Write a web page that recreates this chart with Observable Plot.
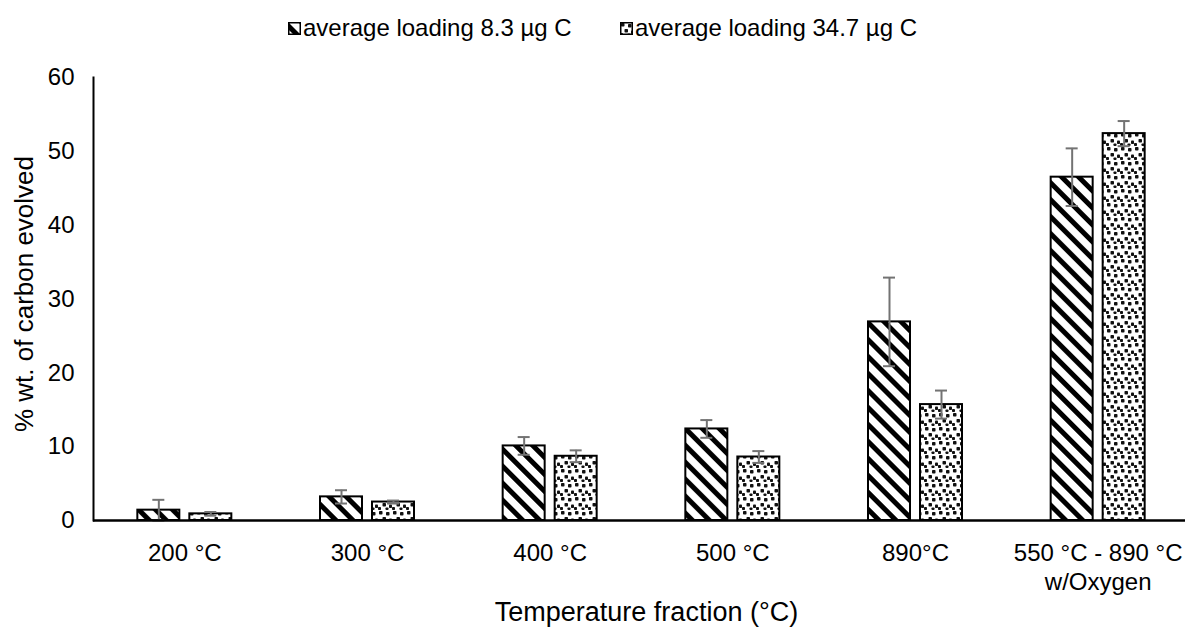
<!DOCTYPE html>
<html><head><meta charset="utf-8">
<script src="https://cdn.jsdelivr.net/npm/d3@7"></script>
<script src="https://cdn.jsdelivr.net/npm/@observablehq/plot@0.6"></script>
<style>
body{margin:0;background:#fff;font-family:"Liberation Sans",Arial,sans-serif;}
#legend{height:62px;position:relative;width:1185px;}
.item{position:absolute;top:14px;display:flex;align-items:center;font-size:24px;color:#000;white-space:nowrap;}
.item svg{margin-right:2px}
</style></head><body>
<svg width="0" height="0" style="position:absolute">
<defs>
<pattern id="stripes" patternUnits="userSpaceOnUse" width="12" height="12" patternTransform="rotate(45)">
<rect width="12" height="12" fill="#fff"/><rect y="0" width="12" height="5" fill="#000"/>
</pattern>
<pattern id="dots" patternUnits="userSpaceOnUse" width="14" height="14">
<rect width="14" height="14" fill="#fff"/>
<g fill="#111">
<rect x="1" y="1" width="3.5" height="3.5" rx="0.8"/><rect x="8" y="2" width="3.5" height="3.5" rx="0.8"/>
<rect x="4.5" y="7" width="3.5" height="3.5" rx="0.8"/><rect x="11" y="8.5" width="3" height="3.5" rx="0.8"/>
<rect x="0" y="11" width="3" height="3" rx="0.8"/><rect x="7.5" y="11.5" width="3" height="2.5" rx="0.8"/>
</g>
</pattern>
</defs></svg>
<div id="legend"></div>
<div id="chart"></div>
<script>
const categories = ["200 °C", "300 °C", "400 °C", "500 °C", "890°C", "550 °C - 890 °C\nw/Oxygen"];
const seriesNames = ["average loading 8.3 µg C", "average loading 34.7 µg C"];
const lowLoading = [1.4, 3.2, 10.1, 12.4, 26.9, 46.5];
const lowLoadingErr = [1.4, 0.9, 1.2, 1.2, 6.0, 3.9];
const highLoading = [0.9, 2.5, 8.7, 8.6, 15.7, 52.4];
const highLoadingErr = [0.25, 0.2, 0.8, 0.8, 1.9, 1.7];
const yTicks = [0, 10, 20, 30, 40, 50, 60];
const yTitle = "% wt. of carbon evolved";
const xTitle = "Temperature fraction (°C)";

const lowRows = categories.map((c, i) => ({category: c, value: lowLoading[i], err: lowLoadingErr[i]}));
const highRows = categories.map((c, i) => ({category: c, value: highLoading[i], err: highLoadingErr[i]}));

// legend
const fills = ["url(#stripes)", "url(#dots)"];
const legendLefts = [288, 620];
const legend = document.getElementById("legend");
seriesNames.forEach((n, i) => {
  const it = document.createElement("div");
  it.className = "item";
  it.style.left = legendLefts[i] + "px";
  it.innerHTML = `<svg width="13" height="13"><rect x="0.75" y="0.75" width="11.5" height="11.5" fill="${fills[i]}" stroke="#000" stroke-width="1.5"/></svg><span>${n}</span>`;
  legend.appendChild(it);
});

const mRight = -4;
const band = (1185 - mRight - 93) / 6;
const barW = 42, innerGap = 10;
const outer = (band - 2 * barW - innerGap) / 2;
const capW = 12;
const cA = outer + barW / 2, cB = outer + barW + innerGap + barW / 2;

const errStyle = {stroke: "#737373", strokeWidth: 2};

const chart = Plot.plot({
  width: 1185,
  height: 567,
  marginTop: 15,
  marginBottom: 109,
  marginLeft: 93,
  marginRight: mRight,
  style: {fontFamily: "'Liberation Sans', Arial, sans-serif", fontSize: "24px", color: "#000", background: "transparent", overflow: "visible"},
  x: {domain: categories, padding: 0, round: false},
  y: {domain: [0, 60], ticks: yTicks},
  marks: [
    Plot.barY(lowRows, {x: "category", y: "value", fill: "url(#stripes)", stroke: "#000", strokeWidth: 2, insetLeft: outer, insetRight: band - outer - barW}),
    Plot.barY(highRows, {x: "category", y: "value", fill: "url(#dots)", stroke: "#000", strokeWidth: 2, insetLeft: outer + barW + innerGap, insetRight: outer}),
    Plot.ruleX(lowRows, {x: "category", y1: d => d.value - d.err, y2: d => d.value + d.err, dx: cA - band / 2, ...errStyle}),
    Plot.ruleX(highRows, {x: "category", y1: d => d.value - d.err, y2: d => d.value + d.err, dx: cB - band / 2, ...errStyle}),
    Plot.tickY(lowRows, {x: "category", y: d => d.value + d.err, insetLeft: cA - capW / 2, insetRight: band - cA - capW / 2, ...errStyle}),
    Plot.tickY(lowRows, {x: "category", y: d => d.value - d.err, insetLeft: cA - capW / 2, insetRight: band - cA - capW / 2, ...errStyle}),
    Plot.tickY(highRows, {x: "category", y: d => d.value + d.err, insetLeft: cB - capW / 2, insetRight: band - cB - capW / 2, ...errStyle}),
    Plot.tickY(highRows, {x: "category", y: d => d.value - d.err, insetLeft: cB - capW / 2, insetRight: band - cB - capW / 2, ...errStyle}),
    Plot.ruleY([0], {stroke: "#000", strokeWidth: 2.5}),
    Plot.frame({anchor: "left", stroke: "#000", strokeWidth: 2}),
    Plot.axisY({ticks: yTicks, tickSize: 0, tickPadding: 19, label: null, fontSize: 24}),
    Plot.axisX({tickSize: 0, tickPadding: 20, label: null, fontSize: 24, lineHeight: 1.2}),
    Plot.text([yTitle], {frameAnchor: "left", rotate: -90, textAnchor: "middle", dx: -69, dy: -5, fontSize: 26}),
    Plot.text([xTitle], {frameAnchor: "bottom", lineAnchor: "bottom", dy: 100, dx: 5, fontSize: 27})
  ]
});
document.getElementById("chart").appendChild(chart);
</script>
</body></html>
